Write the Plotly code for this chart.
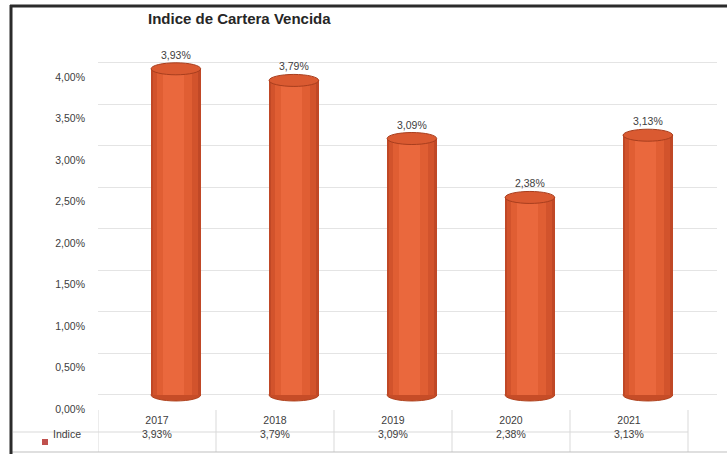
import plotly.graph_objects as go

# Índice de cartera vencida por año (%)
years = [2017, 2018, 2019, 2020, 2021]
values = [3.93, 3.79, 3.09, 2.38, 3.13]
series_name = "Indice"
title_text = "Indice de Cartera Vencida"
y_ticks = [0, 0.5, 1.0, 1.5, 2.0, 2.5, 3.0, 3.5, 4.0]

W, H = 727, 454
ML, MR, MT, MB = 98, 10, 40, 46
PLOT_W = W - ML - MR
PLOT_H = H - MT - MB

# pixel -> paper helpers for decoration placed outside the plot area
def px_x(p):
    return (p - ML) / PLOT_W

def px_y(p):
    return (H - MB - p) / PLOT_H

X_RANGE = [2016.5, 2016.5 + PLOT_W / 118.0]
Y_RANGE = [-0.157, 4.277]
Y_PER_PX = (Y_RANGE[1] - Y_RANGE[0]) / PLOT_H

BAR_SHIFT = 0.16      # cylinders sit slightly right of their column
BAR_W = 0.42
ELL_H = 6 * Y_PER_PX  # half height of the cylinder end caps

def fmt(v):
    return f"{v:.2f}".replace(".", ",") + "%"

fig = go.Figure()

# cylinder body: nested bars from dark edge to light centre
shades = [(0.42, "#C04826", 0.0), (0.38, "#D2532C", 0.0),
          (0.30, "#E05E33", -0.01), (0.18, "#EA683D", -0.02)]
for w, col, dx in shades:
    fig.add_trace(go.Bar(
        x=years, y=values, width=w, offset=BAR_SHIFT + dx - w / 2,
        marker=dict(color=col, line=dict(width=0)),
        name=series_name, showlegend=False, hoverinfo="skip",
    ))

shapes = []
for yr, v in zip(years, values):
    cx = yr + BAR_SHIFT
    # rounded bottom
    shapes.append(dict(type="circle", xref="x", yref="y", layer="between",
                       x0=cx - BAR_W / 2, x1=cx + BAR_W / 2,
                       y0=-ELL_H, y1=ELL_H,
                       fillcolor="#C64C27", line=dict(color="#B0431F", width=1)))
    # top cap
    shapes.append(dict(type="circle", xref="x", yref="y", layer="above",
                       x0=cx - BAR_W / 2, x1=cx + BAR_W / 2,
                       y0=v - ELL_H, y1=v + ELL_H,
                       fillcolor="#DA5A31", line=dict(color="#A83E1E", width=1)))

# data table grid
for k in range(len(years) + 1):
    xb = years[0] - 0.5 + k
    shapes.append(dict(type="line", xref="x", yref="paper",
                       x0=xb, x1=xb, y0=px_y(410), y1=px_y(452),
                       line=dict(color="#D9D9D9", width=1)))
shapes.append(dict(type="line", xref="paper", yref="paper",
                   x0=px_x(13), x1=px_x(688), y0=px_y(432), y1=px_y(432),
                   line=dict(color="#D9D9D9", width=1)))
shapes.append(dict(type="line", xref="paper", yref="paper",
                   x0=px_x(11), x1=px_x(727), y0=px_y(452), y1=px_y(452),
                   line=dict(color="#BFBFBF", width=1)))
# legend key square
shapes.append(dict(type="rect", xref="paper", yref="paper",
                   x0=px_x(42), x1=px_x(48), y0=px_y(445), y1=px_y(439),
                   fillcolor="#C0504D", line=dict(width=0)))
# chart frame (top and left)
shapes.append(dict(type="line", xref="paper", yref="paper",
                   x0=px_x(10), x1=px_x(727), y0=px_y(6), y1=px_y(6),
                   line=dict(color="#2B2B2B", width=3)))
shapes.append(dict(type="line", xref="paper", yref="paper",
                   x0=px_x(11), x1=px_x(11), y0=px_y(5), y1=px_y(454),
                   line=dict(color="#2B2B2B", width=3)))

annotations = []
FONT = "Liberation Sans"
for yr, v in zip(years, values):
    annotations.append(dict(x=yr + BAR_SHIFT, y=v, xref="x", yref="y",
                            text=fmt(v), showarrow=False, yshift=14,
                            font=dict(family=FONT, size=10.5, color="#404040")))
    annotations.append(dict(x=yr, y=px_y(442), xref="x", yref="paper",
                            text=fmt(v), showarrow=False,
                            font=dict(family=FONT, size=10.5, color="#404040")))
annotations.append(dict(x=px_x(51), y=px_y(442), xref="paper", yref="paper",
                        text=series_name, showarrow=False, xanchor="left",
                        font=dict(family=FONT, size=10.5, color="#404040")))

fig.update_layout(
    width=W, height=H,
    margin=dict(l=ML, r=MR, t=MT, b=MB),
    paper_bgcolor="white", plot_bgcolor="white",
    barmode="overlay", bargap=0,
    separators=",.",
    title=dict(text=title_text, xref="container", yref="container",
               x=148 / W, xanchor="left", y=1 - 19 / H, yanchor="middle",
               font=dict(family=FONT, size=15, color="#262626", weight="bold")),
    xaxis=dict(range=X_RANGE, tickvals=years, ticktext=[str(y) for y in years],
               showgrid=False, zeroline=False, showline=False, ticks="",
               ticklabelstandoff=4,
               tickfont=dict(family=FONT, size=10.5, color="#404040")),
    yaxis=dict(range=Y_RANGE, tickvals=y_ticks, ticktext=[fmt(t) for t in y_ticks],
               showgrid=True, gridcolor="#E4E4E4", gridwidth=1,
               zeroline=False, showline=False, ticks="",
               ticklabelshift=14, ticklabelstandoff=12,
               tickfont=dict(family=FONT, size=10.5, color="#404040")),
    shapes=shapes, annotations=annotations,
    showlegend=False,
)

fig.write_html("out.html")
